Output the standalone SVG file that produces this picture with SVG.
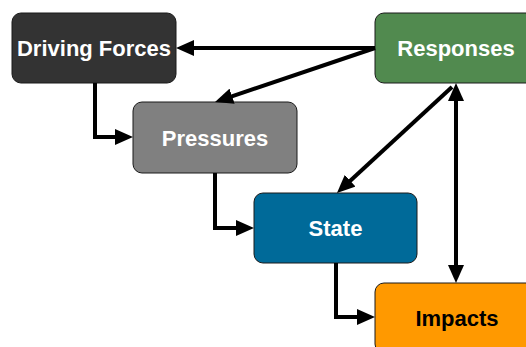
<svg xmlns="http://www.w3.org/2000/svg" width="526" height="347" viewBox="0 0 526 347">
<style>
.box{stroke:#1a1a1a;stroke-width:1}
.lbl{font-family:"Liberation Sans",Arial,sans-serif;font-weight:bold;font-size:22px;text-anchor:middle;fill:#fff}
.con{fill:none;stroke:#000;stroke-width:4}
</style>
<defs>
<marker id="ah" markerUnits="userSpaceOnUse" markerWidth="18" markerHeight="16" refX="8" refY="8" orient="auto-start-reverse">
<path d="M0,0 L18,8 L0,16 z" fill="#000"/>
</marker>
</defs>
<rect width="526" height="347" fill="#fff"/>
<g id="driving-forces">
<rect class="box" x="12" y="13" width="164" height="70" rx="9" fill="#333333"/>
<text class="lbl" x="94" y="56">Driving Forces</text>
</g>
<g id="pressures">
<rect class="box" x="133" y="102" width="164" height="71" rx="9" fill="#808080"/>
<text class="lbl" x="215" y="145.5">Pressures</text>
</g>
<g id="responses">
<rect class="box" x="375" y="13" width="164" height="70" rx="9" fill="#518a4f"/>
<text class="lbl" x="456" y="56">Responses</text>
</g>
<g id="state">
<rect class="box" x="254" y="193" width="163" height="70" rx="9" fill="#006a99"/>
<text class="lbl" x="335.5" y="236">State</text>
</g>
<g id="impacts">
<rect class="box" x="375" y="283" width="164" height="70" rx="9" fill="#ff9900"/>
<text class="lbl" x="457" y="326" fill="#000" style="fill:#000">Impacts</text>
</g>
<g id="connectors">
<path class="con" d="M375,48 H186" marker-end="url(#ah)"/>
<path class="con" d="M375,48 L224.5,98.8" marker-end="url(#ah)"/>
<path class="con" d="M95,83 V137 H123" marker-end="url(#ah)"/>
<path class="con" d="M215,173 V228 H244" marker-end="url(#ah)"/>
<path class="con" d="M336,263 V317 H365" marker-end="url(#ah)"/>
<path class="con" d="M452,87 L344.3,186.2" marker-end="url(#ah)"/>
<path class="con" d="M456,93 V273" marker-start="url(#ah)" marker-end="url(#ah)"/>
</g>
</svg>
